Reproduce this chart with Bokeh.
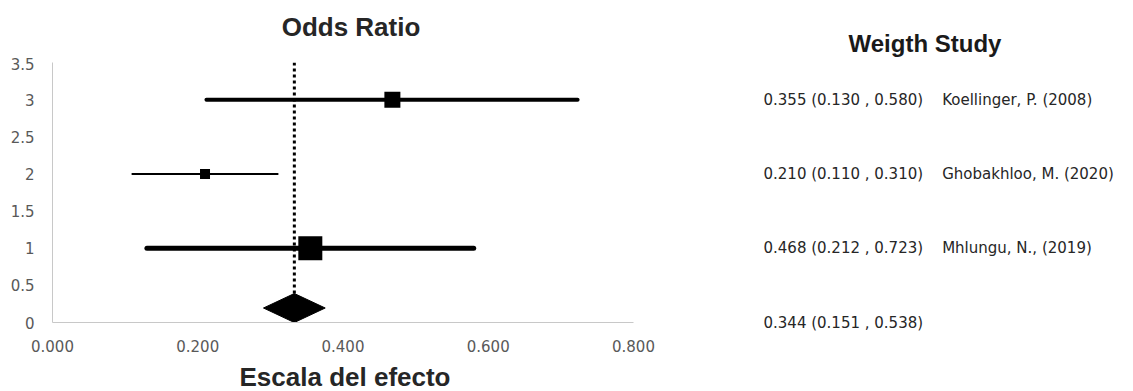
from bokeh.plotting import figure
from bokeh.layouts import column
from bokeh.models import Range1d, FixedTicker, NumeralTickFormatter, ColumnDataSource, LinearAxis
from bokeh.core.properties import value
from bokeh.embed import file_html
from bokeh.resources import INLINE

# ---------------- data ----------------
studies = ["Koellinger, P. (2008)", "Ghobakhloo, M. (2020)", "Mhlungu, N., (2019)"]
odds = [0.355, 0.210, 0.468]
ci_low = [0.130, 0.110, 0.212]
ci_high = [0.580, 0.310, 0.723]
plot_rows = [1, 2, 3]          # y of each study inside the plot
text_rows = [3, 2, 1]          # y of each study's line of text on the right
pooled = [0.344, 0.151, 0.538] # pooled estimate (low, high)
pooled_row = 0
pooled_marker = 0.333          # where diamond / dotted line are drawn in the picture
x_ticks = [0.0, 0.2, 0.4, 0.6, 0.8]
y_ticks = [0, 0.5, 1, 1.5, 2, 2.5, 3, 3.5]
y_tick_labels = ["0", "0.5", "1", "1.5", "2", "2.5", "3", "3.5"]
title_text = "Odds Ratio"
xlabel_text = "Escala del efecto"
side_title = "Weigth Study"

# ---------------- layout / styles ----------------
W, H = 1133, 391
FX0, FX1 = 52, 633        # plot frame, page pixels
FY0, FY1 = 62, 322
XMIN, XMAX = 0.0, 0.8
YMIN, YMAX = 0.0, 3.5
TOP_H = 57
BOT_Y = 357

marker_sizes = [24, 10, 16]
line_widths = [5, 2, 4]
diamond_half_width = 0.0425
diamond_height = 0.39
TICK_FONT = "DejaVu Sans"
TITLE_FONT = "Liberation Sans"
GAP = "\u00a0" * 4


def strip(y0, y1):
    # a text-only band sharing the plot's horizontal frame; y is in page pixels
    f = figure(width=W, height=y1 - y0, output_backend="svg", toolbar_location=None,
               x_range=Range1d(XMIN, XMAX), y_range=Range1d(y1, y0),
               x_axis_location=None, y_axis_location=None,
               min_border_left=FX0, min_border_right=W - FX1,
               min_border_top=0, min_border_bottom=0)
    f.title = None
    f.outline_line_color = None
    f.grid.visible = False
    f.background_fill_color = "white"
    f.border_fill_color = "white"
    return f


# ---------------- main plot ----------------
p = figure(width=W, height=BOT_Y - TOP_H, output_backend="svg", toolbar_location=None,
           x_range=Range1d(XMIN, XMAX), y_range=Range1d(YMIN, YMAX),
           min_border_left=FX0, min_border_right=W - FX1,
           min_border_top=FY0 - TOP_H, min_border_bottom=BOT_Y - FY1)
p.title = None
p.outline_line_color = None
p.xgrid.visible = False
p.ygrid.visible = False
p.background_fill_color = "white"
p.border_fill_color = "white"

for ax in (p.xaxis[0], p.yaxis[0]):
    ax.major_tick_line_color = None
    ax.minor_tick_line_color = None
    ax.major_tick_out = 0
    ax.major_tick_in = 0
    ax.axis_line_color = "#c8c8c8"
    ax.axis_line_width = 1
    ax.major_label_text_font = TICK_FONT
    ax.major_label_text_font_size = "15px"
    ax.major_label_text_color = "#595959"

p.xaxis.ticker = FixedTicker(ticks=x_ticks)
p.xaxis.formatter = NumeralTickFormatter(format="0.000")
p.xaxis.major_label_standoff = 17
p.yaxis.ticker = FixedTicker(ticks=y_ticks)
p.yaxis.major_label_overrides = {t: l for t, l in zip(y_ticks, y_tick_labels)}
p.yaxis.major_label_standoff = 18

src = ColumnDataSource(dict(lo=ci_low, hi=ci_high, est=odds, y=plot_rows,
                            lw=line_widths, size=marker_sizes))

p.segment(x0="lo", y0="y", x1="hi", y1="y", line_width="lw", line_color="black",
          line_cap="round", source=src)

p.line(x=[pooled_marker, pooled_marker], y=[pooled_row + diamond_height, YMAX],
       line_color="black", line_width=3, line_dash="3 3")

p.scatter(x="est", y="y", size="size", marker="square", fill_color="black",
          line_color=None, source=src)

m = pooled_marker
p.patch(x=[m - diamond_half_width, m, m + diamond_half_width, m],
        y=[pooled_row + diamond_height / 2, pooled_row + diamond_height,
           pooled_row + diamond_height / 2, pooled_row],
        fill_color="black", line_color="black", line_width=1)

# ---------------- study table as a right-hand axis ----------------
table = {}
for r, o, l, h, s in zip(text_rows, odds, ci_low, ci_high, studies):
    table[r] = f"{o:.3f} ({l:.3f} , {h:.3f}){GAP}{s}"
table[pooled_row] = f"{pooled[0]:.3f} ({pooled[1]:.3f} , {pooled[2]:.3f})"

tax = LinearAxis(ticker=FixedTicker(ticks=sorted(table)), major_label_overrides=table,
                 axis_line_color=None, major_tick_line_color=None, minor_tick_line_color=None,
                 major_tick_out=0, major_tick_in=0, major_label_standoff=763 - FX1,
                 major_label_text_font=TICK_FONT, major_label_text_font_size="15px",
                 major_label_text_color="#262626")
p.add_layout(tax, "right")

# ---------------- top strip: titles ----------------
top = strip(0, TOP_H)
top.text(x=[(XMIN + XMAX) / 2], y=[26], text=[title_text], x_offset=8,
         text_font=value(TITLE_FONT), text_font_size=value("26px"), text_font_style="bold",
         text_color="#262626", text_align="center", text_baseline="middle")
head_y = 44
hax = LinearAxis(ticker=FixedTicker(ticks=[head_y]), major_label_overrides={head_y: side_title},
                 axis_line_color=None, major_tick_line_color=None, minor_tick_line_color=None,
                 major_tick_out=0, major_tick_in=0, major_label_standoff=848 - FX1,
                 major_label_text_font=TITLE_FONT, major_label_text_font_size="24px",
                 major_label_text_font_style="bold", major_label_text_color="#1a1a1a")
top.add_layout(hax, "right")

# ---------------- bottom strip: x axis title ----------------
bot = strip(BOT_Y, H)
bot.text(x=[(XMIN + XMAX) / 2], y=[376], text=[xlabel_text], x_offset=2,
         text_font=value(TITLE_FONT), text_font_size=value("26px"), text_font_style="bold",
         text_color="#262626", text_align="center", text_baseline="middle")

layout = column(top, p, bot)
open("out.html", "w").write(file_html(layout, INLINE))
